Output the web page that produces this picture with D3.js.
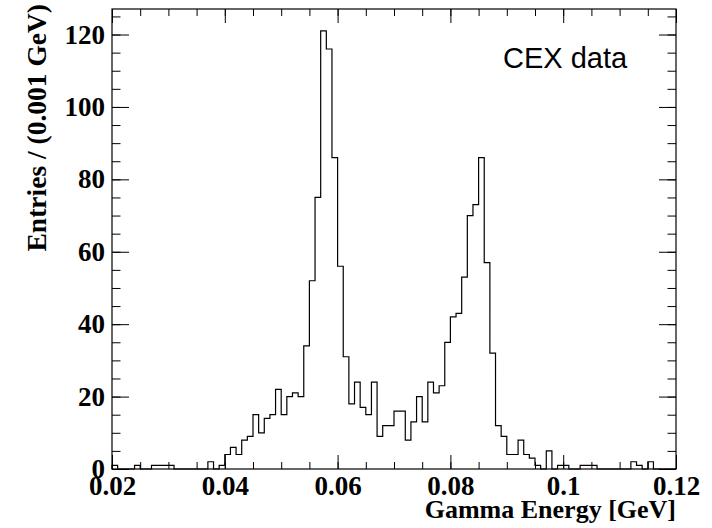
<!DOCTYPE html>
<html>
<head>
<meta charset="utf-8">
<script src="https://cdn.jsdelivr.net/npm/d3@7"></script>
<style>
  body { margin: 0; background: #fff; }
  svg { display: block; }
</style>
</head>
<body>
<div id="chart"></div>
<script>
// Histogram: 100 bins of 0.001 GeV from 0.02 to 0.12
const binStart = 0.02;
const binWidth = 0.001;
const counts = [
  1, 0, 0, 0, 1, 0, 0, 1, 1, 1,
  1, 0, 0, 0, 0, 0, 0, 2, 0, 1,
  4, 6, 4, 8, 9, 15, 10, 14, 15, 22,
  15, 20, 21, 20, 34, 52, 75, 121, 116, 86,
  56, 31, 18, 24, 17, 15, 24, 9, 12, 12,
  16, 16, 8, 13, 20, 13, 24, 21, 23, 35,
  42, 43, 53, 70, 73, 86, 57, 32, 12, 9,
  4, 4, 8, 4, 3, 1, 0, 5, 0, 1,
  1, 0, 0, 1, 1, 1, 0, 0, 0, 0,
  0, 0, 2, 1, 0, 2, 0, 0, 0, 0
];
const xTicks = [0.02, 0.04, 0.06, 0.08, 0.1, 0.12];
const yTicks = [0, 20, 40, 60, 80, 100, 120];
const xTitle = "Gamma Energy [GeV]";
const yTitle = "Entries / (0.001 GeV)";
const legendText = "CEX data";

const width = 712, height = 528;
const margin = { top: 9, right: 36, bottom: 59, left: 112 };
const serif = "'Liberation Serif', 'Times New Roman', serif";

const svg = d3.select("#chart")
  .append("svg")
  .attr("width", width)
  .attr("height", height);

const xMax = binStart + counts.length * binWidth;
const x = d3.scaleLinear()
  .domain([binStart, xMax])
  .range([margin.left, width - margin.right]);

const y = d3.scaleLinear()
  .domain([0, d3.max(counts) * 1.05])
  .range([height - margin.bottom, margin.top]);

// minor tick values
const xMinor = d3.range(0, 21).map(i => binStart + i * 0.005);
const yMinor = d3.range(0, 26).map(i => i * 5);

function fmt(d) { return String(+d.toFixed(3)); }

// bottom axis
svg.append("g")
  .attr("transform", `translate(0,${height - margin.bottom})`)
  .call(d3.axisBottom(x).tickValues(xMinor).tickSizeInner(-7).tickSizeOuter(0).tickFormat(""))
  .call(g => g.select(".domain").remove());
const bottomMajor = svg.append("g")
  .attr("transform", `translate(0,${height - margin.bottom})`)
  .call(d3.axisBottom(x).tickValues(xTicks).tickSizeInner(-14).tickSizeOuter(0).tickPadding(26).tickFormat(fmt));
bottomMajor.select(".domain").remove();
bottomMajor.selectAll("text")
  .attr("dy", 0)
  .style("font-family", serif)
  .style("font-weight", "bold")
  .style("font-size", "27px")
  .attr("fill", "#000");

// top axis (ticks only)
svg.append("g")
  .attr("transform", `translate(0,${margin.top})`)
  .call(d3.axisTop(x).tickValues(xMinor).tickSizeInner(-7).tickSizeOuter(0).tickFormat(""))
  .call(g => g.select(".domain").remove());
svg.append("g")
  .attr("transform", `translate(0,${margin.top})`)
  .call(d3.axisTop(x).tickValues(xTicks).tickSizeInner(-14).tickSizeOuter(0).tickFormat(""))
  .call(g => g.select(".domain").remove());

// left axis
svg.append("g")
  .attr("transform", `translate(${margin.left},0)`)
  .call(d3.axisLeft(y).tickValues(yMinor).tickSizeInner(-8.5).tickSizeOuter(0).tickFormat(""))
  .call(g => g.select(".domain").remove());
const leftMajor = svg.append("g")
  .attr("transform", `translate(${margin.left},0)`)
  .call(d3.axisLeft(y).tickValues(yTicks).tickSizeInner(-17).tickSizeOuter(0).tickPadding(7).tickFormat(d => d));
leftMajor.select(".domain").remove();
leftMajor.selectAll("text")
  .style("font-family", serif)
  .style("font-weight", "bold")
  .style("font-size", "27px")
  .attr("fill", "#000");

// right axis (ticks only)
svg.append("g")
  .attr("transform", `translate(${width - margin.right},0)`)
  .call(d3.axisRight(y).tickValues(yMinor).tickSizeInner(-8.5).tickSizeOuter(0).tickFormat(""))
  .call(g => g.select(".domain").remove());
svg.append("g")
  .attr("transform", `translate(${width - margin.right},0)`)
  .call(d3.axisRight(y).tickValues(yTicks).tickSizeInner(-17).tickSizeOuter(0).tickFormat(""))
  .call(g => g.select(".domain").remove());

svg.selectAll(".tick line").attr("stroke", "#000");

// histogram outline
const pts = [[binStart, 0]];
counts.forEach((c, i) => pts.push([binStart + i * binWidth, c]));
pts.push([xMax, counts[counts.length - 1]]);
pts.push([xMax, 0]);

const line = d3.line()
  .x(d => x(d[0]))
  .y(d => y(d[1]))
  .curve(d3.curveStepAfter);

svg.append("path")
  .datum(pts)
  .attr("fill", "none")
  .attr("stroke", "#000")
  .attr("stroke-width", 1.2)
  .attr("d", line);

// frame
svg.append("rect")
  .attr("x", margin.left)
  .attr("y", margin.top)
  .attr("width", width - margin.left - margin.right)
  .attr("height", height - margin.top - margin.bottom)
  .attr("fill", "none")
  .attr("stroke", "#000")
  .attr("stroke-width", 1.2);

// axis titles
svg.append("text")
  .attr("x", width - margin.right)
  .attr("y", 518)
  .attr("text-anchor", "end")
  .style("font-family", serif)
  .style("font-weight", "bold")
  .style("font-size", "26px")
  .text(xTitle);

svg.append("text")
  .attr("transform", "rotate(-90)")
  .attr("x", -4)
  .attr("y", 46)
  .attr("text-anchor", "end")
  .style("font-family", serif)
  .style("font-weight", "bold")
  .style("font-size", "27.5px")
  .text(yTitle);

// legend text
svg.append("text")
  .attr("x", 503)
  .attr("y", 68)
  .style("font-family", "'Liberation Sans', Arial, sans-serif")
  .style("font-size", "29px")
  .text(legendText);
</script>
</body>
</html>
